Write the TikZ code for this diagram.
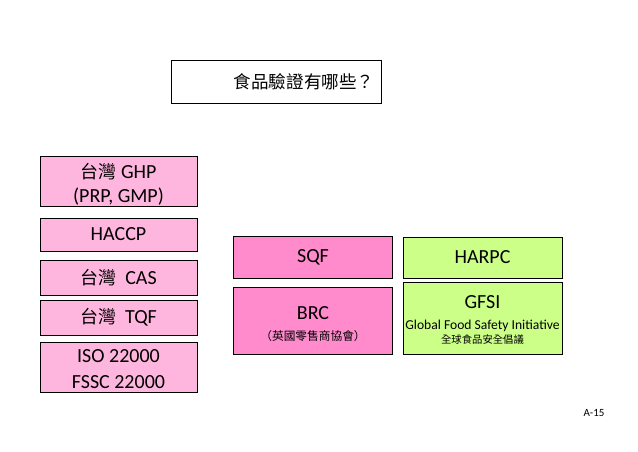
\documentclass[tikz,border=0pt]{standalone}
\usepackage{fontspec}
\setmainfont{Carlito}
\newfontfamily\cjk{Noto Sans CJK TC}[Scale=0.9]
\definecolor{lpink}{RGB}{255,182,222}
\definecolor{dpink}{RGB}{255,138,204}
\definecolor{lgreen}{RGB}{204,255,136}
\tikzset{
  box/.style={draw=black, line width=0.9pt, inner sep=0pt, font=\fontsize{20}{24}\selectfont},
  txt/.style={inner sep=0pt, font=\fontsize{20}{24}\selectfont},
  small/.style={inner sep=0pt, font=\fontsize{11.5}{13}\selectfont},
}
\begin{document}
\begin{tikzpicture}[x=1pt,y=-1pt]
\useasboundingbox[fill=white] (0,0) rectangle (638,452);
% title
\node[box, fill=white, minimum width=210pt, minimum height=43pt] (title) at (276,81.5) {};
\node[inner sep=0pt, font=\fontsize{19.5}{22}\selectfont] (titletxt) at (304,82) {\cjk 食品驗證有哪些？};
% left column
\node[box, fill=lpink, minimum width=157pt, minimum height=50pt] (ghp) at (118.5,181) {};
\node[txt] (ghp1) at (118.5,172) {{\cjk 台灣} GHP};
\node[txt] (ghp2) at (118.5,197) {(PRP, GMP)};
\node[box, fill=lpink, minimum width=157pt, minimum height=33pt] (haccp) at (118.5,234.5) {HACCP};
\node[box, fill=lpink, minimum width=157pt, minimum height=35pt] (cas) at (118.5,277.5) {{\cjk 台灣}\ \ CAS};
\node[box, fill=lpink, minimum width=157pt, minimum height=35pt] (tqf) at (118.5,317.5) {{\cjk 台灣}\ \ TQF};
\node[box, fill=lpink, minimum width=157pt, minimum height=50pt] (iso) at (118.5,367) {};
\node[txt] (iso1) at (118.5,356) {ISO 22000};
\node[txt] (iso2) at (118.5,382) {FSSC 22000};
% middle column
\node[box, fill=dpink, minimum width=159pt, minimum height=42pt] (sqf) at (313,257.5) {SQF};
\node[box, fill=dpink, minimum width=159pt, minimum height=67pt] (brc) at (313,320.5) {};
\node[txt] (brc1) at (313,313) {BRC};
\node[small, font=\fontsize{13}{14}\selectfont] (brc2) at (313,336) {\cjk （英國零售商協會）};
% right column
\node[box, fill=lgreen, minimum width=159pt, minimum height=41pt] (harpc) at (482.5,257.5) {HARPC};
\node[box, fill=lgreen, minimum width=159pt, minimum height=72pt] (gfsi) at (482.5,318) {};
\node[txt] (gfsi1) at (482.5,302) {GFSI};
\node[small, font=\fontsize{13.6}{15}\selectfont] (gfsi2) at (482.5,326) {Global Food Safety Initiative};
\node[small] (gfsi3) at (482.5,340) {\cjk 全球食品安全倡議};
% page number
\node[inner sep=0pt, font=\fontsize{11}{13}\selectfont] (pg) at (594,413) {A-15};
\end{tikzpicture}
\end{document}
